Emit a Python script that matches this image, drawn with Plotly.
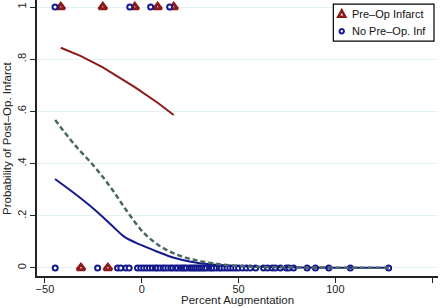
import plotly.graph_objects as go

# Pre-op infarct observations (outcome 1 / 0)
preop_x1 = [-41.8, -20.1, -3.6, 8.2, 16.5]
preop_x0 = [-31.4, -17.5]
# No pre-op infarct observations
nopre_x1 = [-44.8, -6.2, 4.6, 14.4]
nopre_x0 = [-44.7, -22.8, -12.5, -10.8, -8.2, -6.5, -2.2, -0.5, 1, 2.5, 4, 5.5, 7, 8,
            9.5, 11, 12, 13.5, 15, 16, 17.5, 18.5, 20, 21, 22, 23, 24.5, 25.5, 26.5,
            27.5, 28.5, 29.5, 30.5, 31.5, 32.5, 33.5, 35, 36, 37, 38.5, 40, 41, 42.5,
            44, 45.5, 47, 48.5, 50, 52, 54, 56, 58.8, 62.9, 65, 67.4, 69, 71.6, 74.7,
            76, 78.4, 85.4, 89.7, 96.6, 107.7, 127.5]

# Fitted probability curves
red_x = [-41.8, -31.4, -20.1, -17.5, -3.6, 8.2, 16.5]
red_y = [0.844, 0.812, 0.769, 0.757, 0.693, 0.633, 0.586]
blue_x = [-44.8, -35, -24.6, -15, -9.1, -0.5, 8.1, 16.6, 25.3, 33.9, 45, 60, 80, 100, 127.5]
blue_y = [0.341, 0.287, 0.225, 0.16, 0.120, 0.088, 0.062, 0.039, 0.024, 0.015, 0.008,
          0.004, 0.002, 0.001, 0.0005]
dash_x = [-44.7, -35, -23.7, -15.1, -7.4, 1.2, 9.8, 18.4, 27, 34.7, 45, 60, 80, 100, 127.5]
dash_y = [0.567, 0.475, 0.382, 0.299, 0.215, 0.133, 0.082, 0.050, 0.031, 0.020, 0.010,
          0.004, 0.002, 0.001, 0.0005]

x_ticks = [-50, 0, 50, 100, 150]
y_ticks = [0, 0.2, 0.4, 0.6, 0.8, 1]
y_ticklabels = ["0", ".2", ".4", ".6", ".8", "1"]

legend_labels = ["Pre\u2013Op Infarct", "No Pre\u2013Op. Inf"]

RED = "#8c1a1a"
NAVY = "#141a8c"
GREY = "#4a6666"
FONT = "Liberation Sans, Arial, sans-serif"

tri_marker = dict(symbol="triangle-up", size=7, color="white", line=dict(color=RED, width=3))
circ_marker = dict(symbol="circle", size=5, color="white", line=dict(color=NAVY, width=2))

fig = go.Figure()
fig.add_trace(go.Scatter(
    x=preop_x1 + preop_x0, y=[1] * len(preop_x1) + [0] * len(preop_x0),
    mode="markers", name=legend_labels[0], marker=tri_marker,
    showlegend=False, cliponaxis=False))
fig.add_trace(go.Scatter(
    x=nopre_x1 + nopre_x0, y=[1] * len(nopre_x1) + [0] * len(nopre_x0),
    mode="markers", name=legend_labels[1], marker=circ_marker,
    showlegend=False, cliponaxis=False))
fig.add_trace(go.Scatter(x=red_x, y=red_y, mode="lines", showlegend=False,
                         line=dict(color=RED, width=2)))
fig.add_trace(go.Scatter(x=blue_x, y=blue_y, mode="lines", showlegend=False,
                         line=dict(color=NAVY, width=2), line_shape="spline"))
fig.add_trace(go.Scatter(x=dash_x, y=dash_y, mode="lines", showlegend=False,
                         line=dict(color=GREY, width=2.5, dash="5px,3px"),
                         line_shape="spline"))

# Custom legend: box, glyphs (pixel-sized shapes) and labels
leg_x0, leg_x1, leg_y0, leg_y1 = 0.739, 0.990, 0.851, 0.985
fig.add_shape(type="rect", xref="paper", yref="paper", x0=leg_x0, x1=leg_x1,
              y0=leg_y0, y1=leg_y1, line=dict(color="black", width=1.2),
              fillcolor="white", layer="above")
row_y = [0.950, 0.887]
glyph_x = leg_x0 + 0.021
fig.add_shape(type="path", xref="paper", yref="paper", xsizemode="pixel", ysizemode="pixel",
              xanchor=glyph_x, yanchor=row_y[0], path="M-3.5,-3 L3.5,-3 L0,3.5 Z",
              line=dict(color=RED, width=2.5), fillcolor="white", layer="above")
fig.add_shape(type="circle", xref="paper", yref="paper", xsizemode="pixel", ysizemode="pixel",
              xanchor=glyph_x, yanchor=row_y[1], x0=-2.2, x1=2.2, y0=-2.2, y1=2.2,
              line=dict(color=NAVY, width=2), fillcolor="white", layer="above")
for lbl, ry in zip(legend_labels, row_y):
    fig.add_annotation(x=leg_x0 + 0.042, y=ry, xref="paper", yref="paper", text=lbl,
                       showarrow=False, xanchor="left", yanchor="middle",
                       font=dict(family=FONT, size=11, color="#111"))

# Axis titles
fig.add_annotation(x=0.5, y=-0.087, xref="paper", yref="paper", text="Percent Augmentation",
                   showarrow=False, xanchor="center", yanchor="middle",
                   font=dict(family=FONT, size=11.5, color="#222"))
fig.add_annotation(x=-0.0025, y=0.5, xref="paper", yref="paper",
                   text="Probability of Post\u2013Op. Infarct", textangle=-90,
                   showarrow=False, xanchor="center", yanchor="middle", xshift=-29,
                   font=dict(family=FONT, size=11.5, color="#222"))

fig.update_layout(
    width=440, height=308,
    margin=dict(l=37, r=2, t=0, b=32),
    paper_bgcolor="white", plot_bgcolor="white",
    font=dict(family=FONT, size=11, color="#222"),
    showlegend=False,
    xaxis=dict(range=[-54.1, 153], tickvals=x_ticks, showgrid=False, zeroline=False,
               showline=True, linecolor="#222", linewidth=1.5, automargin=False,
               ticks="outside", ticklen=5, tickcolor="#222", ticklabelstandoff=-3),
    yaxis=dict(range=[-0.031, 1.027], tickvals=y_ticks, ticktext=y_ticklabels,
               tickangle=-90, showgrid=True, gridcolor="#e2f2f2", gridwidth=1.2,
               zeroline=False, showline=True, linecolor="#222", linewidth=1.5,
               automargin=False, ticks="outside", ticklen=5, tickcolor="#222"),
)

fig.write_html("out.html", config={"displayModeBar": False},
               post_script="document.body.style.margin='0';")
